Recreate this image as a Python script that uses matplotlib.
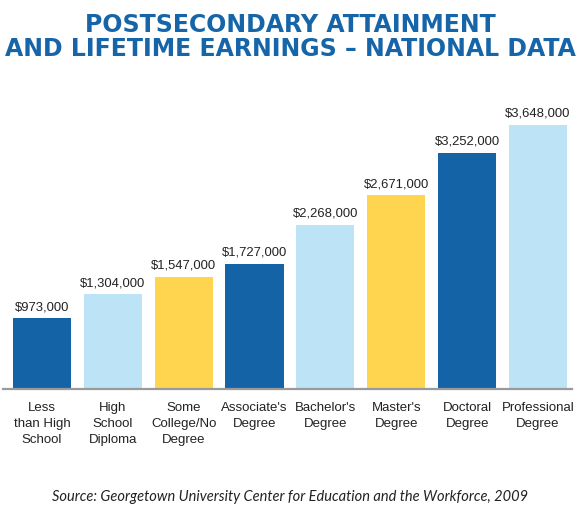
import matplotlib.pyplot as plt

CATEGORIES = [
    "Less\nthan High\nSchool",
    "High\nSchool\nDiploma",
    "Some\nCollege/No\nDegree",
    "Associate's\nDegree",
    "Bachelor's\nDegree",
    "Master's\nDegree",
    "Doctoral\nDegree",
    "Professional\nDegree",
]
EARNINGS = [973000, 1304000, 1547000, 1727000, 2268000, 2671000, 3252000, 3648000]

DARK_BLUE = "#1463a6"
LIGHT_BLUE = "#bde3f7"
YELLOW = "#ffd44f"
BAR_COLORS = [DARK_BLUE, LIGHT_BLUE, YELLOW, DARK_BLUE, LIGHT_BLUE, YELLOW, DARK_BLUE, LIGHT_BLUE]

plt.rcParams["font.family"] = ["Liberation Sans", "DejaVu Sans"]

fig = plt.figure(figsize=(5.8, 5.1), dpi=100)
ax = fig.add_axes([3 / 580, 120 / 510, 569 / 580, 290 / 510])

x = list(range(len(CATEGORIES)))
bars = ax.bar(x, EARNINGS, width=0.82, color=BAR_COLORS, zorder=2)

for rect, val in zip(bars, EARNINGS):
    ax.annotate(
        f"${val:,.0f}",
        (rect.get_x() + rect.get_width() / 2, rect.get_height()),
        xytext=(0, 4.5),
        textcoords="offset points",
        ha="center",
        va="bottom",
        fontsize=9.4,
        color="#222222",
    )

ax.set_xlim(-0.55, 7.48)
ax.set_ylim(0, 4000000)
ax.set_xticks(x)
ax.set_xticklabels(CATEGORIES, fontsize=9.5, color="#222222", linespacing=1.45, va="top")
ax.tick_params(axis="x", length=0, pad=8.5)
ax.set_yticks([])
for side in ("top", "left", "right"):
    ax.spines[side].set_visible(False)
ax.spines["bottom"].set_color("#9a9a9a")
ax.spines["bottom"].set_linewidth(1.6)

# two title lines placed separately so their spacing matches
title_style = dict(ha="center", va="center", fontsize=17, fontweight="bold",
                   color="#1565a8", family=["DejaVu Sans"])
fig.text(0.5, 1 - 25 / 510, "POSTSECONDARY ATTAINMENT", **title_style)
fig.text(0.5, 1 - 48.5 / 510, "AND LIFETIME EARNINGS \u2013 NATIONAL DATA", **title_style)

fig.text(
    0.5, 1 - 497 / 510,
    "Source: Georgetown University Center for Education and the Workforce, 2009",
    ha="center", va="center", fontsize=10.5, style="italic",
    family=["Lato", "DejaVu Sans"], color="#222222",
)

fig.savefig("out.png", dpi=100)
